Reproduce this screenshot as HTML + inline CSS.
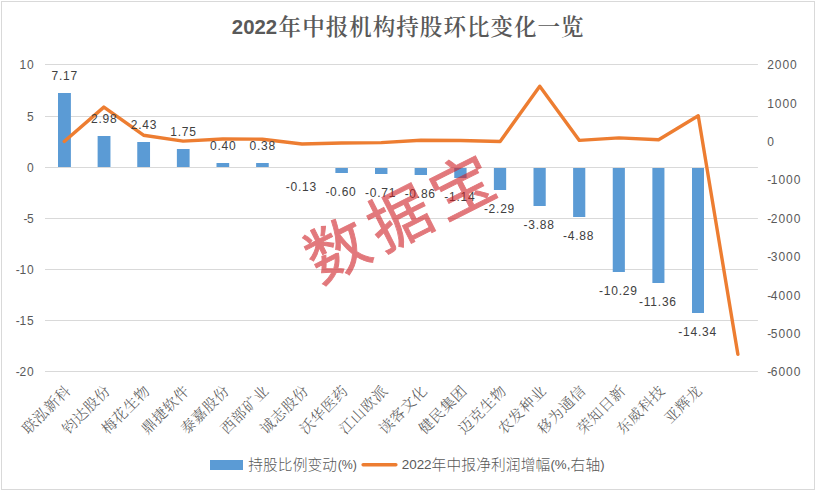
<!DOCTYPE html>
<html lang="zh-CN"><head><meta charset="utf-8"><title>2022年中报机构持股环比变化一览</title>
<style>
html,body{margin:0;padding:0;background:#fff;}
body{width:815px;height:490px;overflow:hidden;}
svg{display:block;}
.ax{font-family:"Liberation Sans",sans-serif;font-size:12px;fill:#595959;letter-spacing:0.95px;}
.dl{font-family:"Liberation Sans",sans-serif;font-size:12px;fill:#404040;letter-spacing:0.75px;}
.cat{font-family:"Liberation Serif","Noto Serif CJK SC",serif;font-size:14.7px;fill:#595959;font-weight:300;letter-spacing:0.6px;}
.lg{font-family:"Liberation Sans","Noto Sans CJK SC",sans-serif;font-size:14.7px;fill:#595959;font-weight:300;}
.ttl{font-family:"Liberation Serif","Noto Serif CJK SC",serif;font-weight:700;fill:#595959;}
.wm{font-family:"Liberation Sans","Noto Sans CJK SC",sans-serif;font-size:62px;fill:#cf2026;stroke:#cf2026;stroke-width:0.9px;opacity:0.60;font-weight:400;}
</style></head><body>
<svg width="815" height="490" viewBox="0 0 815 490">
<rect x="0" y="0" width="815" height="490" fill="#ffffff"/>
<rect x="1.5" y="1.5" width="813" height="488" fill="none" stroke="#d9d9d9" stroke-width="1"/>
<rect x="45.0" y="64" width="712.9" height="1" fill="#d9d9d9"/>
<rect x="45.0" y="116" width="712.9" height="1" fill="#d9d9d9"/>
<rect x="45.0" y="167" width="712.9" height="1" fill="#d9d9d9"/>
<rect x="45.0" y="218" width="712.9" height="1" fill="#d9d9d9"/>
<rect x="45.0" y="269" width="712.9" height="1" fill="#d9d9d9"/>
<rect x="45.0" y="320" width="712.9" height="1" fill="#d9d9d9"/>
<rect x="45.0" y="371" width="712.9" height="1" fill="#d9d9d9"/>
<rect x="58.00" y="93" width="12.90" height="74" fill="#5b9bd5"/>
<rect x="97.62" y="136" width="12.84" height="31" fill="#5b9bd5"/>
<rect x="137.25" y="142" width="12.79" height="25" fill="#5b9bd5"/>
<rect x="176.88" y="149" width="12.73" height="18" fill="#5b9bd5"/>
<rect x="216.50" y="163" width="12.68" height="4" fill="#5b9bd5"/>
<rect x="256.12" y="163" width="12.62" height="4" fill="#5b9bd5"/>
<rect x="335.38" y="168" width="12.51" height="5" fill="#5b9bd5"/>
<rect x="375.00" y="168" width="12.45" height="6" fill="#5b9bd5"/>
<rect x="414.62" y="168" width="12.40" height="7" fill="#5b9bd5"/>
<rect x="454.25" y="168" width="12.34" height="10" fill="#5b9bd5"/>
<rect x="493.88" y="168" width="12.28" height="22" fill="#5b9bd5"/>
<rect x="533.50" y="168" width="12.23" height="38" fill="#5b9bd5"/>
<rect x="573.12" y="168" width="12.17" height="49" fill="#5b9bd5"/>
<rect x="612.75" y="168" width="12.12" height="104" fill="#5b9bd5"/>
<rect x="652.38" y="168" width="12.06" height="115" fill="#5b9bd5"/>
<rect x="692.00" y="168" width="12.00" height="145" fill="#5b9bd5"/>
<text class="ax" x="34.7" y="68.90" text-anchor="end">10</text>
<text class="ax" x="34.7" y="120.90" text-anchor="end">5</text>
<text class="ax" x="34.7" y="171.90" text-anchor="end">0</text>
<text class="ax" x="34.7" y="222.90" text-anchor="end"><tspan style="letter-spacing:-0.35px">-</tspan>5</text>
<text class="ax" x="34.7" y="273.90" text-anchor="end"><tspan style="letter-spacing:-0.35px">-</tspan>10</text>
<text class="ax" x="34.7" y="324.90" text-anchor="end"><tspan style="letter-spacing:-0.35px">-</tspan>15</text>
<text class="ax" x="34.7" y="375.90" text-anchor="end"><tspan style="letter-spacing:-0.35px">-</tspan>20</text>
<text class="ax" x="767.2" y="69.30">2000</text>
<text class="ax" x="767.2" y="107.67">1000</text>
<text class="ax" x="767.2" y="146.05">0</text>
<text class="ax" x="767.2" y="184.43"><tspan style="letter-spacing:-0.35px">-</tspan>1000</text>
<text class="ax" x="767.2" y="222.80"><tspan style="letter-spacing:-0.35px">-</tspan>2000</text>
<text class="ax" x="767.2" y="261.18"><tspan style="letter-spacing:-0.35px">-</tspan>3000</text>
<text class="ax" x="767.2" y="299.55"><tspan style="letter-spacing:-0.35px">-</tspan>4000</text>
<text class="ax" x="767.2" y="337.93"><tspan style="letter-spacing:-0.35px">-</tspan>5000</text>
<text class="ax" x="767.2" y="376.30"><tspan style="letter-spacing:-0.35px">-</tspan>6000</text>
<polyline points="64.25,141.5 103.88,107.1 143.50,135.2 183.12,141.1 222.75,139 262.38,139.2 302.00,144 341.62,143 381.25,142.65 420.88,140.3 460.50,140.5 500.12,141.5 539.75,86.2 579.38,140.4 619.00,137.9 658.62,139.7 698.25,115.8 737.88,354.3" fill="none" stroke="#ed7d31" stroke-width="3.4" stroke-linecap="round" stroke-linejoin="round"/>
<text class="dl" x="64.65" y="79.60" text-anchor="middle">7.17</text>
<text class="dl" x="104.28" y="122.60" text-anchor="middle">2.98</text>
<text class="dl" x="143.90" y="128.60" text-anchor="middle">2.43</text>
<text class="dl" x="183.53" y="135.60" text-anchor="middle">1.75</text>
<text class="dl" x="223.15" y="149.60" text-anchor="middle">0.40</text>
<text class="dl" x="262.77" y="149.60" text-anchor="middle">0.38</text>
<text class="dl" x="301.30" y="191.00" text-anchor="middle">-0.13</text>
<text class="dl" x="340.93" y="196.00" text-anchor="middle">-0.60</text>
<text class="dl" x="380.55" y="197.00" text-anchor="middle">-0.71</text>
<text class="dl" x="420.18" y="198.00" text-anchor="middle">-0.86</text>
<text class="dl" x="459.80" y="201.00" text-anchor="middle">-1.14</text>
<text class="dl" x="499.43" y="213.00" text-anchor="middle">-2.29</text>
<text class="dl" x="539.05" y="229.00" text-anchor="middle">-3.88</text>
<text class="dl" x="578.67" y="240.00" text-anchor="middle">-4.88</text>
<text class="dl" x="618.30" y="295.00" text-anchor="middle">-10.29</text>
<text class="dl" x="657.92" y="306.00" text-anchor="middle">-11.36</text>
<text class="dl" x="697.55" y="336.00" text-anchor="middle">-14.34</text>
<text class="cat" transform="translate(71.75,391.7) rotate(-45)" text-anchor="end">联泓新科</text>
<text class="cat" transform="translate(111.38,391.7) rotate(-45)" text-anchor="end">钧达股份</text>
<text class="cat" transform="translate(151.00,391.7) rotate(-45)" text-anchor="end">梅花生物</text>
<text class="cat" transform="translate(190.62,391.7) rotate(-45)" text-anchor="end">鼎捷软件</text>
<text class="cat" transform="translate(230.25,391.7) rotate(-45)" text-anchor="end">泰嘉股份</text>
<text class="cat" transform="translate(269.88,391.7) rotate(-45)" text-anchor="end">西部矿业</text>
<text class="cat" transform="translate(309.50,391.7) rotate(-45)" text-anchor="end">诚志股份</text>
<text class="cat" transform="translate(349.12,391.7) rotate(-45)" text-anchor="end">沃华医药</text>
<text class="cat" transform="translate(388.75,391.7) rotate(-45)" text-anchor="end">江山欧派</text>
<text class="cat" transform="translate(428.38,391.7) rotate(-45)" text-anchor="end">读客文化</text>
<text class="cat" transform="translate(468.00,391.7) rotate(-45)" text-anchor="end">健民集团</text>
<text class="cat" transform="translate(507.62,391.7) rotate(-45)" text-anchor="end">迈克生物</text>
<text class="cat" transform="translate(547.25,391.7) rotate(-45)" text-anchor="end">农发种业</text>
<text class="cat" transform="translate(586.88,391.7) rotate(-45)" text-anchor="end">移为通信</text>
<text class="cat" transform="translate(626.50,391.7) rotate(-45)" text-anchor="end">荣知日新</text>
<text class="cat" transform="translate(666.12,391.7) rotate(-45)" text-anchor="end">东威科技</text>
<text class="cat" transform="translate(703.15,391.7) rotate(-45)" text-anchor="end">亚辉龙</text>
<text class="ttl" x="231.8" y="34.3"><tspan font-family="Liberation Sans,sans-serif" font-size="20.5px" textLength="45.4" lengthAdjust="spacingAndGlyphs">2022</tspan></text>
<text class="ttl" x="278.6" y="34.6" style="font-size:22.5px;font-weight:600" textLength="305" lengthAdjust="spacing">年中报机构持股环比变化一览</text>
<rect x="210" y="460" width="33" height="10" fill="#5b9bd5"/>
<text class="lg" x="248.3" y="469.6" textLength="88.6" lengthAdjust="spacing">持股比例变动</text>
<text class="lg" x="337.7" y="469.4" style="font-size:13px;font-weight:400" textLength="19.3" lengthAdjust="spacingAndGlyphs">(%)</text>
<line x1="363.1" x2="395.9" y1="464.8" y2="464.8" stroke="#ed7d31" stroke-width="3.4" stroke-linecap="round"/>
<text class="lg" x="401.7" y="469.4" style="font-size:13px;font-weight:400" textLength="29.9" lengthAdjust="spacingAndGlyphs">2022</text>
<text class="lg" x="431.6" y="469.6" textLength="118.6" lengthAdjust="spacing">年中报净利润增幅</text>
<text class="lg" x="550.4" y="469.4" style="font-size:13px;font-weight:400" textLength="20" lengthAdjust="spacingAndGlyphs">(%,</text>
<text class="lg" x="570.4" y="469.6" textLength="29.8" lengthAdjust="spacing">右轴</text>
<text class="lg" x="600.2" y="469.4" style="font-size:13px;font-weight:400">)</text>
<text class="wm" transform="translate(413.5,236.8) rotate(-26.8)" text-anchor="middle" letter-spacing="8">数据宝</text>
</svg></body></html>
